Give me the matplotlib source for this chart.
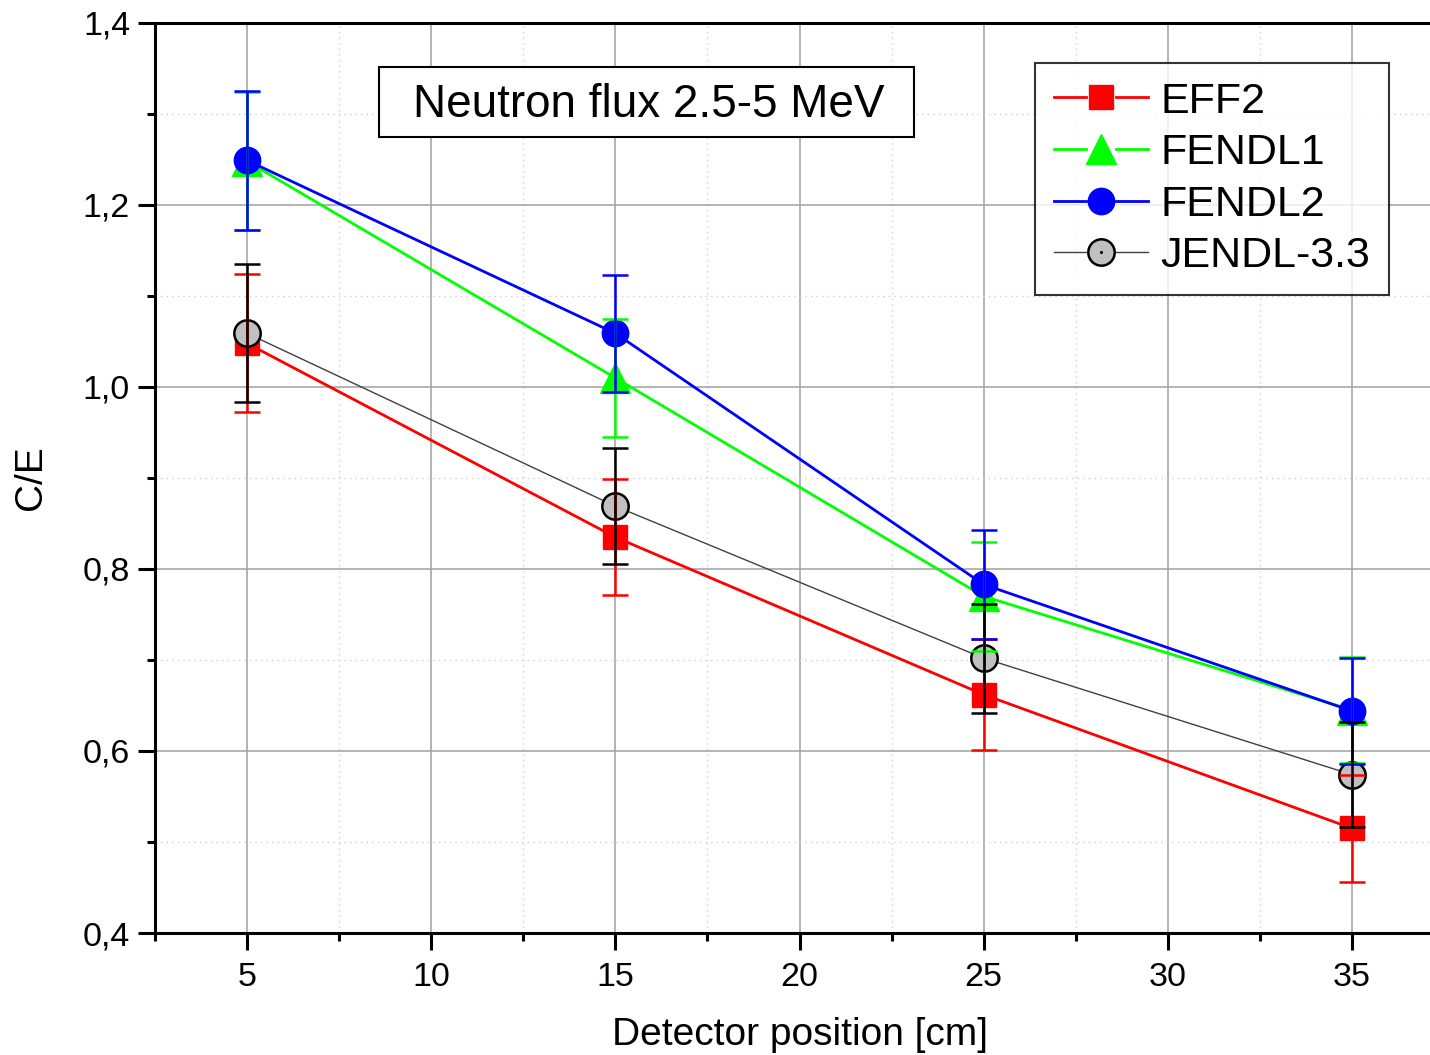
import matplotlib.pyplot as plt
from matplotlib.lines import Line2D
from matplotlib.legend_handler import HandlerBase
from matplotlib.patches import Rectangle
from matplotlib.ticker import MultipleLocator, FuncFormatter

plt.rcParams['font.family'] = ['Liberation Sans', 'DejaVu Sans']

positions = [5, 15, 25, 35]

eff2 = [1.048, 0.835, 0.662, 0.515]
eff2_err = [0.076, 0.064, 0.061, 0.059]

fendl1 = [1.248, 1.010, 0.770, 0.645]
fendl1_err = [0.076, 0.065, 0.060, 0.058]

fendl2 = [1.249, 1.059, 0.783, 0.644]
fendl2_err = [0.076, 0.064, 0.060, 0.058]

jendl = [1.059, 0.869, 0.702, 0.574]
jendl_err = [0.076, 0.064, 0.060, 0.058]


# Origin-style legend entry: line - marker - line, with gaps
class GapLine(HandlerBase):
    def create_artists(self, legend, orig, xd, yd, w, h, fs, trans):
        y = h / 2 - yd
        x0 = -xd
        kw = dict(color=orig.get_color(), lw=orig.get_linewidth())
        left = Line2D([x0, x0 + 0.34 * w], [y, y], **kw)
        right = Line2D([x0 + 0.66 * w, x0 + w], [y, y], **kw)
        mk = Line2D([x0 + w / 2], [y], ls='none', marker=orig.get_marker(),
                    ms=orig.get_markersize(), mfc=orig.get_markerfacecolor(),
                    mec=orig.get_markeredgecolor(), mew=orig.get_markeredgewidth())
        out = [left, right, mk]
        if orig.get_label() == 'JENDL-3.3':
            out.append(Line2D([x0 + w / 2], [y], ls='none', marker='.', ms=2.5, color='black'))
        for a in out:
            a.set_transform(trans)
        return out


fig = plt.figure(figsize=(14.3, 10.55), dpi=100)
ax = fig.add_axes([155 / 1430, 1 - 933 / 1055, 1289 / 1430, 910 / 1055])

series = [
    ('EFF2', eff2, eff2_err, '#ff0000', 's', 17, 2.0, '#ff0000'),
    ('FENDL1', fendl1, fendl1_err, '#00ff00', '^', 21, 2.0, '#00ff00'),
    ('FENDL2', fendl2, fendl2_err, '#0000ff', 'o', 19, 2.0, '#0000ff'),
    ('JENDL-3.3', jendl, jendl_err, '#404040', 'o', 19, 1.0, '#000000'),
]

handles = []
for i, (name, vals, errs, col, mk, ms, lw, ecol) in enumerate(series):
    if name == 'JENDL-3.3':
        h, = ax.plot(positions, vals, color=col, lw=lw, marker=mk, ms=ms,
                     mfc='#c0c0c0', mec='black', mew=1.8, zorder=3 + i, label=name)
        ax.plot(positions, vals, ls='none', marker='.', ms=2.5, color='black', zorder=3 + i)
    else:
        h, = ax.plot(positions, vals, color=col, lw=lw, marker=mk, ms=ms,
                     mec=col, zorder=3 + i, label=name)
    handles.append(h)

for i, (name, vals, errs, col, mk, ms, lw, ecol) in enumerate(series):
    ax.errorbar(positions, vals, yerr=errs, fmt='none', ecolor=ecol,
                elinewidth=1.8, capsize=9.5, capthick=1.8, zorder=10 + i)

ax.set_xlim(2.5, 37.5)
ax.set_ylim(0.4, 1.4)
ax.xaxis.set_major_locator(MultipleLocator(5))
ax.xaxis.set_minor_locator(MultipleLocator(2.5))
ax.yaxis.set_major_locator(MultipleLocator(0.2))
ax.yaxis.set_minor_locator(MultipleLocator(0.1))
ax.yaxis.set_major_formatter(FuncFormatter(lambda v, p: f'{v:.1f}'.replace('.', ',')))

ax.grid(which='major', color='#a0a0a0', lw=1.1, ls='-', zorder=0)
ax.grid(which='minor', color='#d0d0d0', lw=1.0, ls=(0, (1, 3)), zorder=0)
ax.set_axisbelow(True)

for s in ax.spines.values():
    s.set_linewidth(2.2)
ax.tick_params(which='major', direction='out', length=12, width=2.2, labelsize=24.5)
ax.tick_params(axis='x', which='major', pad=9)
ax.tick_params(axis='y', which='major', pad=6)
ax.tick_params(which='minor', direction='out', length=6, width=2.2)

ax.set_xlabel('Detector position [cm]', fontsize=28, labelpad=17)
ax.set_ylabel('C/E', fontsize=28, labelpad=24)

# title box
ax.add_patch(Rectangle((8.584, 1.2747), 23.11 - 8.584, 1.3516 - 1.2747, fc='white',
                       ec='black', lw=1.5, zorder=20))
ax.text(15.9, 1.3095, 'Neutron flux 2.5-5 MeV', fontsize=33, ha='center', va='center', zorder=21)

leg = ax.legend(handles=handles, handler_map={Line2D: GapLine()},
                loc='upper left', bbox_to_anchor=((1035 - 155) / 1289, 1 - (63 - 23) / 910),
                fontsize=31, frameon=True, fancybox=False, edgecolor='black',
                handlelength=2.2, handletextpad=0.28, labelspacing=0.27, borderpad=0.43,
                borderaxespad=0)
leg.get_frame().set_linewidth(1.5)
leg.set_zorder(20)

fig.savefig('out.png', dpi=100)
